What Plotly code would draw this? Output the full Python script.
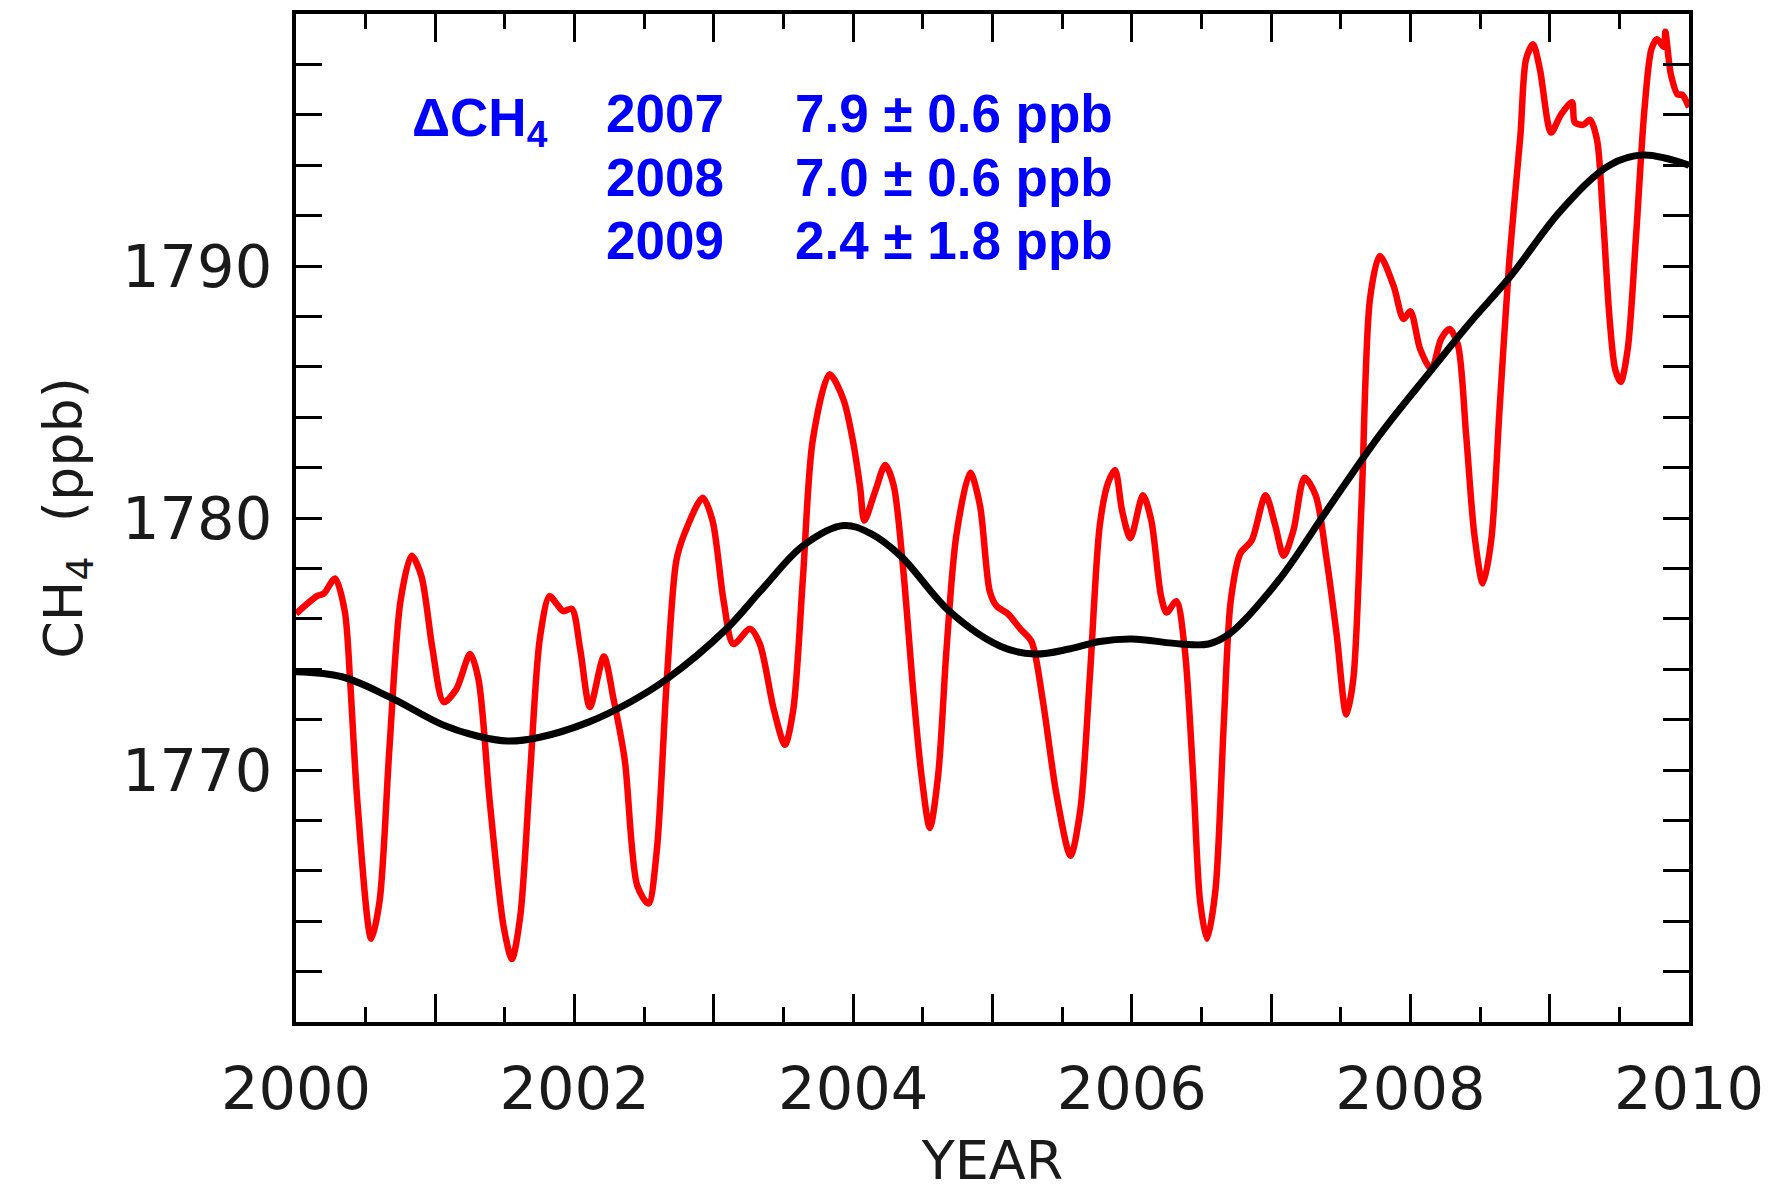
import plotly.graph_objects as go

# ---- data ----
red_year = [2000.00, 2000.15, 2000.20, 2000.28, 2000.35, 2000.39, 2000.44, 2000.54, 2000.60, 2000.67,
            2000.75, 2000.83, 2000.90, 2000.98, 2001.06, 2001.15, 2001.25, 2001.31, 2001.39, 2001.49,
            2001.55, 2001.61, 2001.68, 2001.75, 2001.82, 2001.87, 2001.92, 2001.98, 2002.04, 2002.11,
            2002.21, 2002.28, 2002.36, 2002.45, 2002.53, 2002.59, 2002.66, 2002.73, 2002.79, 2002.92,
            2002.99, 2003.07, 2003.14, 2003.26, 2003.33, 2003.43, 2003.51, 2003.57, 2003.64, 2003.71,
            2003.83, 2003.93, 2004.00, 2004.05, 2004.08, 2004.16, 2004.23, 2004.29, 2004.36, 2004.43,
            2004.49, 2004.55, 2004.61, 2004.67, 2004.74, 2004.84, 2004.91, 2004.98, 2005.03, 2005.11,
            2005.20, 2005.28, 2005.36, 2005.46, 2005.56, 2005.63, 2005.70, 2005.77, 2005.83, 2005.88,
            2005.93, 2005.99, 2006.08, 2006.14, 2006.21, 2006.25, 2006.32, 2006.38, 2006.44, 2006.49,
            2006.54, 2006.60, 2006.66, 2006.71, 2006.78, 2006.86, 2006.96, 2007.03, 2007.09, 2007.16,
            2007.24, 2007.32, 2007.40, 2007.47, 2007.54, 2007.59, 2007.65, 2007.71, 2007.78, 2007.88,
            2007.95, 2008.00, 2008.07, 2008.15, 2008.22, 2008.28, 2008.34, 2008.40, 2008.46, 2008.52,
            2008.58, 2008.64, 2008.71, 2008.79, 2008.83, 2008.88, 2008.93, 2009.01, 2009.08, 2009.16,
            2009.18, 2009.24, 2009.29, 2009.34, 2009.38, 2009.43, 2009.47, 2009.51, 2009.56, 2009.62,
            2009.68, 2009.73, 2009.77, 2009.82, 2009.83, 2009.87, 2009.92, 2009.95, 2010.00]
red_ch4 = [1776.2, 1776.9, 1777.0, 1777.6, 1776.3, 1773.4, 1768.8, 1763.3, 1764.8, 1770.8,
           1776.7, 1778.5, 1777.7, 1774.8, 1772.7, 1773.2, 1774.6, 1773.6, 1768.8, 1763.8,
           1762.5, 1764.2, 1769.8, 1775.2, 1776.9, 1776.6, 1776.3, 1776.4, 1774.8, 1772.5,
           1774.5, 1772.8, 1770.4, 1765.4, 1764.7, 1766.8, 1773.4, 1778.3, 1779.4, 1780.8,
           1779.9, 1776.7, 1775.0, 1775.6, 1775.0, 1772.4, 1771.0, 1772.4, 1777.7, 1783.1,
           1785.7, 1784.7, 1783.0, 1781.2, 1779.9, 1781.1, 1782.1, 1781.3, 1777.9, 1773.2,
           1769.8, 1767.7, 1769.8, 1774.8, 1779.3, 1781.8, 1780.5, 1777.1, 1776.5, 1776.2,
           1775.6, 1775.1, 1772.8, 1769.0, 1766.6, 1768.4, 1773.8, 1779.7, 1781.4, 1781.9,
           1780.3, 1779.2, 1780.9, 1779.9, 1776.9, 1776.25, 1776.7, 1774.8, 1769.8, 1764.8,
           1763.3, 1765.2, 1771.8, 1776.7, 1778.6, 1779.1, 1780.9, 1779.7, 1778.5, 1779.5,
           1781.6, 1780.9, 1778.3, 1775.4, 1772.2, 1773.6, 1780.7, 1788.7, 1790.4, 1789.2,
           1787.9, 1788.2, 1786.7, 1785.9, 1787.1, 1787.5, 1786.9, 1783.3, 1779.3, 1777.4,
           1779.1, 1784.3, 1790.2, 1795.2, 1798.2, 1798.8, 1797.8, 1795.3, 1796.0, 1796.5,
           1795.7, 1795.6, 1795.8, 1795.0, 1792.2, 1787.9, 1785.9, 1785.4, 1786.7, 1791.2,
           1796.2, 1798.6, 1799.0, 1798.7, 1799.3, 1797.6, 1796.8, 1796.8, 1796.3]

trend_year = [2000.0, 2000.33, 2000.67, 2001.05, 2001.3, 2001.52, 2001.75, 2002.1, 2002.4, 2002.66,
              2003.09, 2003.35, 2003.64, 2003.93, 2004.12, 2004.34, 2004.69, 2005.06, 2005.3, 2005.55,
              2005.77, 2006.0, 2006.35, 2006.55, 2006.7, 2007.05, 2007.4, 2007.78, 2008.14, 2008.42,
              2008.72, 2009.08, 2009.43, 2009.67, 2010.0]
trend_ch4 = [1773.9, 1773.7, 1772.9, 1771.8, 1771.35, 1771.15, 1771.3, 1771.9, 1772.7, 1773.6,
             1775.6, 1777.2, 1778.9, 1779.7, 1779.4, 1778.5, 1776.3, 1774.9, 1774.6, 1774.8,
             1775.1, 1775.2, 1775.0, 1775.0, 1775.4, 1777.5, 1780.3, 1783.3, 1785.8, 1787.7,
             1789.6, 1792.2, 1794.0, 1794.4, 1794.0]

x_label_years = [2000, 2002, 2004, 2006, 2008, 2010]
x_odd_years = [2001, 2003, 2005, 2007, 2009]
y_tickvals = [1770, 1780, 1790]

ann_years = ["2007", "2008", "2009"]
ann_values = ["7.9 ± 0.6 ppb", "7.0 ± 0.6 ppb", "2.4 ± 1.8 ppb"]
ann_rows_y = [1796.07, 1793.53, 1791.03]

BLUE = "#0000FF"
AXFONT = "DejaVu Sans, Verdana, sans-serif"
TXT = "#1a1a1a"

fig = go.Figure()
fig.add_trace(go.Scatter(x=red_year, y=red_ch4, mode="lines",
                         line=dict(color="#FF0000", width=6.5, shape="spline", smoothing=0.8),
                         showlegend=False, hoverinfo="skip"))
fig.add_trace(go.Scatter(x=trend_year, y=trend_ch4, mode="lines",
                         line=dict(color="#000000", width=7, shape="spline", smoothing=1.0),
                         showlegend=False, hoverinfo="skip"))
# invisible trace holding the overlay axis for the unlabeled odd-year ticks
fig.add_trace(go.Scatter(x=[2000, 2010], y=[1760, 1760], mode="lines", xaxis="x2",
                         line=dict(width=0, color="rgba(0,0,0,0)"), showlegend=False, hoverinfo="skip"))

tickfont = dict(family=AXFONT, size=59, color=TXT)

fig.update_layout(
    xaxis=dict(range=[2000, 2010], tickmode="array", tickvals=x_label_years,
               ticks="inside", ticklen=28, tickwidth=3, tickcolor="black",
               minor=dict(ticks="inside", dtick=0.5, tick0=2000, ticklen=15, tickwidth=3, tickcolor="black"),
               showline=True, linewidth=4, linecolor="black", mirror="allticks",
               showgrid=False, zeroline=False, tickfont=tickfont, ticklabelstandoff=12,
               automargin=False,
               title=dict(text="YEAR", font=dict(family=AXFONT, size=54, color=TXT), standoff=22)),
    xaxis2=dict(range=[2000, 2010], overlaying="x", anchor="y", side="bottom",
                tickmode="array", tickvals=x_odd_years, showticklabels=False,
                ticks="inside", ticklen=28, tickwidth=3, tickcolor="black",
                showline=False, mirror="allticks", showgrid=False, zeroline=False, automargin=False),
    yaxis=dict(range=[1760, 1800], tickmode="array", tickvals=y_tickvals,
               ticks="inside", ticklen=26, tickwidth=3, tickcolor="black",
               minor=dict(ticks="inside", dtick=2, tick0=1760, ticklen=13, tickwidth=3, tickcolor="black"),
               showline=True, linewidth=4, linecolor="black", mirror="allticks",
               showgrid=False, zeroline=False, tickfont=tickfont, ticklabelstandoff=8,
               automargin=False,
               title=dict(text="CH<sub>4</sub>&nbsp;&nbsp;(ppb)", font=dict(family=AXFONT, size=54, color=TXT),
                          standoff=23)),
)

annfont = dict(family="Liberation Sans, Arial, sans-serif", size=53, color=BLUE)
fig.add_annotation(x=2000.82, y=ann_rows_y[0], xref="x", yref="y", xanchor="left", yanchor="middle",
                   text="<b>ΔCH<sub>4</sub></b>", showarrow=False, font=annfont, yshift=-8)
for yr, val, yy in zip(ann_years, ann_values, ann_rows_y):
    fig.add_annotation(x=2002.21, y=yy, xref="x", yref="y", xanchor="left", yanchor="middle",
                       text="<b>" + yr + "</b>", showarrow=False, font=annfont)
    fig.add_annotation(x=2003.57, y=yy, xref="x", yref="y", xanchor="left", yanchor="middle",
                       text="<b>" + val + "</b>", showarrow=False, font=annfont)

fig.update_layout(width=1769, height=1192, margin=dict(l=296, r=80, t=14, b=170),
                  plot_bgcolor="white", paper_bgcolor="white")

fig.write_html("out.html")
